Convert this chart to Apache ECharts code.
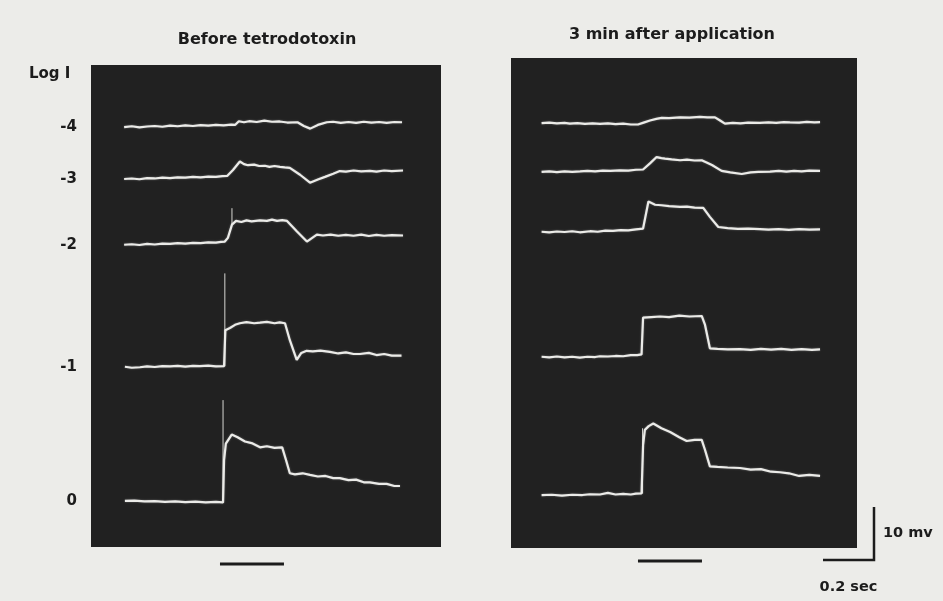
<!DOCTYPE html>
<html>
<head>
<meta charset="utf-8">
<script src="https://cdn.jsdelivr.net/npm/echarts@6/dist/echarts.min.js"></script>
<style>
html,body{margin:0;padding:0;background:#ecece9;}
#chart{width:943px;height:601px;}
</style>
</head>
<body>
<div id="chart"></div>
<script>
// ---------- data (time in s, potential in mV relative to pre-stimulus baseline) ----------
const panelTitles = ['Before tetrodotoxin', '3 min after application'];
const logI = ['-4', '-3', '-2', '-1', '0'];

const before_m4 = [[0.13,0],[0.16,0.15],[0.19,-0.05],[0.22,0.1],[0.25,0.2],[0.28,0.05],[0.31,0.25],[0.34,0.15],[0.37,0.3],[0.40,0.2],[0.43,0.35],[0.46,0.25],[0.49,0.4],[0.52,0.3],[0.55,0.45],[0.565,0.4],[0.58,1.1],[0.60,0.9],[0.62,1.1],[0.65,0.95],[0.68,1.2],[0.71,1.0],[0.74,1.05],[0.77,0.85],[0.81,0.9],[0.835,0.2],[0.86,-0.3],[0.89,0.4],[0.925,0.9],[0.95,1.0],[0.98,0.8],[1.01,0.95],[1.04,0.8],[1.07,1.0],[1.10,0.85],[1.13,0.95],[1.16,0.8],[1.19,0.95],[1.22,0.9]];
const before_m3 = [[0.13,0],[0.16,0.1],[0.19,-0.05],[0.22,0.15],[0.25,0.1],[0.28,0.25],[0.31,0.15],[0.34,0.3],[0.37,0.25],[0.40,0.4],[0.43,0.3],[0.46,0.45],[0.49,0.4],[0.515,0.55],[0.535,0.6],[0.557,1.7],[0.584,3.3],[0.60,2.8],[0.616,2.6],[0.64,2.7],[0.66,2.45],[0.682,2.5],[0.70,2.3],[0.72,2.45],[0.741,2.3],[0.76,2.2],[0.78,2.1],[0.82,0.8],[0.859,-0.7],[0.89,-0.1],[0.918,0.4],[0.95,1.0],[0.976,1.5],[1.0,1.4],[1.03,1.6],[1.06,1.45],[1.094,1.55],[1.12,1.4],[1.15,1.6],[1.18,1.5],[1.224,1.6]];
const before_m2 = [[0.13,0],[0.16,0.1],[0.19,-0.05],[0.22,0.15],[0.25,0.05],[0.28,0.2],[0.31,0.15],[0.34,0.3],[0.37,0.2],[0.40,0.35],[0.43,0.3],[0.46,0.45],[0.49,0.4],[0.51,0.55],[0.525,0.6],[0.537,1.3],[0.553,3.8],[0.569,4.5],[0.59,4.3],[0.61,4.6],[0.63,4.4],[0.663,4.6],[0.69,4.5],[0.71,4.75],[0.73,4.5],[0.75,4.65],[0.769,4.5],[0.808,2.5],[0.847,0.6],[0.865,1.2],[0.886,1.9],[0.91,1.75],[0.94,1.9],[0.97,1.7],[1.0,1.85],[1.03,1.7],[1.06,1.9],[1.09,1.65],[1.12,1.85],[1.15,1.7],[1.18,1.8],[1.224,1.75]];
const before_m1 = [[0.133,0],[0.16,-0.2],[0.192,-0.1],[0.22,0.05],[0.25,-0.05],[0.28,0.1],[0.31,0.05],[0.34,0.15],[0.37,0.0],[0.40,0.15],[0.427,0.1],[0.46,0.2],[0.49,0.05],[0.522,0.1],[0.527,6.9],[0.545,7.3],[0.565,7.9],[0.584,8.2],[0.61,8.4],[0.64,8.2],[0.663,8.3],[0.69,8.45],[0.72,8.2],[0.74,8.35],[0.761,8.2],[0.78,5.0],[0.807,1.3],[0.825,2.6],[0.846,3.0],[0.87,2.9],[0.90,3.05],[0.937,2.8],[0.97,2.5],[1.0,2.7],[1.03,2.4],[1.055,2.4],[1.09,2.6],[1.12,2.2],[1.15,2.4],[1.18,2.1],[1.218,2.1]];
const before_0  = [[0.133,0],[0.17,0.05],[0.21,-0.1],[0.25,-0.05],[0.29,-0.2],[0.33,-0.1],[0.37,-0.25],[0.41,-0.15],[0.45,-0.3],[0.49,-0.2],[0.518,-0.3],[0.522,7.7],[0.529,10.8],[0.552,12.5],[0.575,12.0],[0.604,11.2],[0.63,10.9],[0.663,10.1],[0.69,10.3],[0.72,10.0],[0.75,10.1],[0.765,7.7],[0.78,5.2],[0.80,5.0],[0.83,5.2],[0.859,4.9],[0.89,4.6],[0.92,4.7],[0.95,4.3],[0.976,4.3],[1.01,3.9],[1.04,4.0],[1.07,3.5],[1.094,3.5],[1.13,3.2],[1.16,3.2],[1.19,2.8],[1.212,2.8]];

const after_m4 = [[0.12,0],[0.15,0.1],[0.18,-0.05],[0.21,0.05],[0.231,-0.1],[0.26,0.0],[0.29,-0.15],[0.32,-0.05],[0.349,-0.15],[0.38,-0.05],[0.41,-0.2],[0.44,-0.1],[0.47,-0.25],[0.498,-0.25],[0.52,0.1],[0.545,0.5],[0.57,0.8],[0.591,1.0],[0.62,0.95],[0.663,1.1],[0.70,1.05],[0.741,1.2],[0.77,1.1],[0.8,1.1],[0.82,0.5],[0.839,-0.1],[0.87,0.05],[0.90,-0.05],[0.93,0.1],[0.976,0.05],[1.01,0.15],[1.04,0.05],[1.07,0.2],[1.094,0.15],[1.13,0.1],[1.16,0.25],[1.19,0.15],[1.212,0.2]];
const after_m3 = [[0.12,0],[0.15,0.1],[0.18,-0.05],[0.21,0.1],[0.24,0.0],[0.271,0.1],[0.30,0.2],[0.33,0.1],[0.36,0.25],[0.39,0.2],[0.427,0.3],[0.46,0.25],[0.49,0.4],[0.518,0.45],[0.545,1.6],[0.571,2.8],[0.59,2.6],[0.604,2.5],[0.63,2.35],[0.663,2.2],[0.69,2.3],[0.72,2.15],[0.748,2.2],[0.788,1.3],[0.826,0.2],[0.86,-0.1],[0.905,-0.4],[0.94,-0.1],[0.97,0.0],[1.016,0.05],[1.05,0.2],[1.08,0.05],[1.11,0.2],[1.14,0.1],[1.17,0.25],[1.212,0.2]];
const after_m2 = [[0.12,0],[0.15,-0.1],[0.18,0.05],[0.21,-0.05],[0.24,0.1],[0.27,-0.1],[0.31,0.1],[0.34,0.0],[0.37,0.2],[0.40,0.15],[0.43,0.3],[0.46,0.25],[0.49,0.45],[0.518,0.6],[0.539,5.7],[0.565,5.1],[0.59,5.0],[0.62,4.85],[0.663,4.7],[0.69,4.75],[0.72,4.55],[0.754,4.5],[0.78,2.8],[0.813,0.9],[0.85,0.7],[0.89,0.55],[0.93,0.6],[0.976,0.5],[1.01,0.4],[1.05,0.5],[1.09,0.35],[1.13,0.5],[1.17,0.4],[1.212,0.45]];
const after_m1 = [[0.12,0],[0.15,-0.1],[0.18,0.05],[0.21,-0.1],[0.24,0.0],[0.27,-0.15],[0.30,0.0],[0.33,-0.05],[0.349,0.1],[0.38,0.05],[0.41,0.15],[0.44,0.1],[0.47,0.3],[0.495,0.3],[0.512,0.45],[0.518,7.4],[0.55,7.5],[0.584,7.6],[0.62,7.5],[0.66,7.75],[0.70,7.6],[0.748,7.7],[0.761,6.0],[0.78,1.6],[0.81,1.5],[0.85,1.4],[0.898,1.45],[0.94,1.3],[0.98,1.5],[1.02,1.35],[1.06,1.5],[1.10,1.3],[1.14,1.45],[1.18,1.3],[1.212,1.4]];
const after_0  = [[0.12,0],[0.16,0.05],[0.20,-0.1],[0.24,0.05],[0.28,0.0],[0.31,0.15],[0.349,0.1],[0.38,0.4],[0.41,0.1],[0.44,0.2],[0.47,0.1],[0.49,0.25],[0.512,0.3],[0.518,9.4],[0.525,12.3],[0.54,13.0],[0.558,13.5],[0.59,12.6],[0.624,11.9],[0.66,10.9],[0.689,10.2],[0.72,10.4],[0.748,10.4],[0.761,8.5],[0.78,5.4],[0.81,5.3],[0.85,5.2],[0.898,5.1],[0.94,4.8],[0.98,4.9],[1.02,4.4],[1.055,4.3],[1.09,4.1],[1.13,3.6],[1.17,3.8],[1.212,3.6]];

// stimulus artefact spikes: [time s, from mV, to mV] (null = none)
const spikes_before = [null, null, [0.553,3.8,6.9], [0.525,0.1,17.6], [0.518,-0.3,19.0]];
const spikes_after  = [null, null, null, null, [0.516,0.3,12.6]];

// stimulus markers [start s, end s]
const stim_before = [0.506, 0.757];
const stim_after  = [0.498, 0.749];

// calibration
const cal_sec = 0.2;
const cal_mv = 10;

// ---------- layout ----------
const tracesBefore = [before_m4, before_m3, before_m2, before_m1, before_0];
const tracesAfter  = [after_m4, after_m3, after_m2, after_m1, after_0];
// screen offsets of each trace (mV above the panel floor)
const offBefore = [79.2, 69.4, 57.0, 34.0, 8.7];
const offAfter  = [80.2, 71.0, 59.7, 36.1, 10.0];

const FONT = 'DejaVu Sans';
const INK = '#1c1c1c';
const TRACE = '#ebebe8';
const PANEL = '#212121';

const series = [];
function addPanel(traces, offs, spikes, gi) {
  traces.forEach((tr, i) => {
    series.push({
      type: 'line', xAxisIndex: gi, yAxisIndex: gi, symbol: 'none', silent: true,
      data: tr.map(p => [p[0], offs[i] + p[1]]),
      lineStyle: { color: TRACE, width: 2.2, shadowColor: 'rgba(255,255,255,0.35)', shadowBlur: 2 },
      z: 3
    });
    const s = spikes[i];
    if (s) {
      series.push({
        type: 'line', xAxisIndex: gi, yAxisIndex: gi, symbol: 'none', silent: true,
        data: [[s[0], offs[i] + s[1]], [s[0], offs[i] + s[2]]],
        lineStyle: { color: '#d6d6d2', width: 1 }, z: 2
      });
    }
  });
}
addPanel(tracesBefore, offBefore, spikes_before, 0);
addPanel(tracesAfter, offAfter, spikes_after, 1);

[[stim_before, 2], [stim_after, 3]].forEach(([st, gi]) => {
  series.push({
    type: 'line', xAxisIndex: gi, yAxisIndex: gi, symbol: 'none', silent: true, clip: false,
    data: [[st[0], 0], [st[1], 0]],
    lineStyle: { color: INK, width: 3 }
  });
});
series.push({
  type: 'line', xAxisIndex: 4, yAxisIndex: 4, symbol: 'none', silent: true, clip: false,
  data: [[0, 0], [cal_sec, 0], [cal_sec, cal_mv]],
  lineStyle: { color: INK, width: 2.5, join: 'miter' }
});

const hiddenX = (gi, max) => ({ type: 'value', gridIndex: gi, min: 0, max: max, show: false });
const txt = (size) => ({ fontFamily: FONT, fontWeight: 'bold', fontSize: size, color: INK });

const option = {
  backgroundColor: '#ecece9',
  animation: false,
  title: [
    { text: panelTitles[0], left: 262, top: 27, textAlign: 'center', textStyle: txt(16) },
    { text: panelTitles[1], left: 667, top: 22, textAlign: 'center', textStyle: txt(16) },
    { text: 'Log I', left: 24, top: 62, textStyle: txt(15) }
  ],
  grid: [
    { left: 91, top: 65, width: 350, height: 482, show: true, backgroundColor: PANEL, borderWidth: 0 },
    { left: 511, top: 58, width: 346, height: 490, show: true, backgroundColor: PANEL, borderWidth: 0 },
    { left: 91, top: 559, width: 350, height: 10 },
    { left: 511, top: 556, width: 346, height: 10 },
    { left: 823, top: 507, width: 51, height: 53 }
  ],
  xAxis: [
    hiddenX(0, 1.373),
    hiddenX(1, 1.357),
    hiddenX(2, 1.373),
    hiddenX(3, 1.357),
    { type: 'value', gridIndex: 4, min: 0, max: cal_sec,
      axisLine: { show: false }, axisTick: { show: false }, axisLabel: { show: false }, splitLine: { show: false },
      name: cal_sec + ' sec', nameLocation: 'middle', nameGap: 20, nameTextStyle: txt(14.5) }
  ],
  yAxis: [
    { type: 'value', gridIndex: 0, min: 0, max: 90.9,
      axisLine: { show: false }, axisTick: { show: false }, splitLine: { show: false },
      axisLabel: Object.assign(txt(15), {
        customValues: offBefore, margin: 14,
        formatter: v => { const i = offBefore.findIndex(b => Math.abs(b - v) < 1e-6); return i >= 0 ? logI[i] : ''; }
      }) },
    { type: 'value', gridIndex: 1, min: 0, max: 92.5, show: false },
    { type: 'value', gridIndex: 2, min: -1, max: 1, show: false },
    { type: 'value', gridIndex: 3, min: -1, max: 1, show: false },
    { type: 'value', gridIndex: 4, min: 0, max: cal_mv, position: 'right',
      axisLine: { show: false }, axisTick: { show: false }, axisLabel: { show: false }, splitLine: { show: false },
      name: cal_mv + ' mv', nameLocation: 'middle', nameRotate: 0, nameGap: 9,
      nameTextStyle: Object.assign(txt(14.5), { align: 'left' }) }
  ],
  series: series
};

const chart = echarts.init(document.getElementById('chart'), null, { renderer: 'canvas' });
chart.setOption(option);
</script>
</body>
</html>
